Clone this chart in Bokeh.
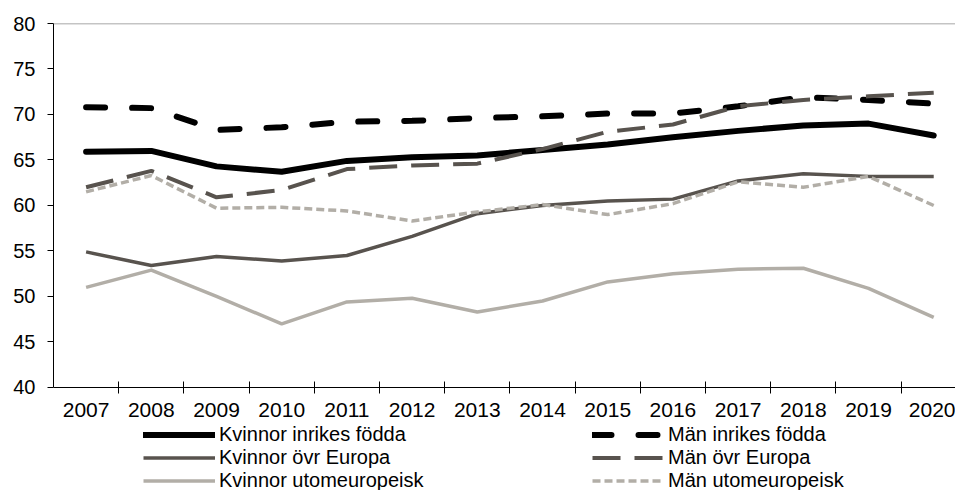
from bokeh.plotting import figure
from bokeh.models import Range1d, FixedTicker, Span, Legend, LegendItem
from bokeh.embed import file_html
from bokeh.resources import INLINE

years = list(range(2007, 2021))
kv_inrikes = [65.9, 66.0, 64.3, 63.7, 64.9, 65.3, 65.5, 66.1, 66.7, 67.5, 68.2, 68.8, 69.0, 67.7]
man_inrikes = [70.8, 70.7, 68.3, 68.6, 69.2, 69.3, 69.6, 69.8, 70.1, 70.1, 70.9, 71.9, 71.6, 71.2]
kv_europa = [54.9, 53.4, 54.4, 53.9, 54.5, 56.6, 59.1, 60.0, 60.5, 60.7, 62.7, 63.5, 63.2, 63.2]
man_europa = [62.0, 63.8, 60.9, 61.7, 64.0, 64.4, 64.6, 66.2, 68.1, 68.9, 70.9, 71.6, 72.0, 72.4]
kv_utom = [51.0, 52.9, 50.0, 47.0, 49.4, 49.8, 48.3, 49.5, 51.6, 52.5, 53.0, 53.1, 50.9, 47.7]
man_utom = [61.5, 63.3, 59.7, 59.8, 59.4, 58.3, 59.3, 60.1, 59.0, 60.2, 62.6, 62.0, 63.2, 60.0]
y_ticks = [40, 45, 50, 55, 60, 65, 70, 75, 80]
labels = ["Kvinnor inrikes födda", "Män inrikes födda", "Kvinnor övr Europa",
          "Män övr Europa", "Kvinnor utomeuropeisk", "Män utomeuropeisk"]

FONT = "Liberation Sans"
BLACK = "#000000"
DARK = "#58534e"
LIGHT = "#b2aea7"

# frame spans the whole lower area; the x axis is pinned at y = 40 and the legend sits under it
p = figure(width=955, height=490, output_backend="svg", toolbar_location=None,
           x_range=Range1d(years[0] - 0.5, years[-1] + 0.334),
           y_range=Range1d(y_ticks[-1] - 51.32, y_ticks[-1]),
           min_border_left=53, min_border_right=0, min_border_top=23, min_border_bottom=0)
p.outline_line_color = None
p.xgrid.visible = False
p.ygrid.visible = False
p.background_fill_color = "white"
p.border_fill_color = "white"

xa = p.xaxis[0]
xa.fixed_location = y_ticks[0]
xa.ticker = FixedTicker(ticks=years, minor_ticks=[y + 0.5 for y in years[:-1]])
xa.major_tick_in = 0
xa.major_tick_out = 0
xa.minor_tick_in = 6
xa.minor_tick_out = 6
xa.minor_tick_line_color = BLACK
xa.axis_line_color = BLACK
xa.major_label_text_font = FONT
xa.major_label_text_font_size = "21px"
xa.major_label_text_color = BLACK
xa.major_label_standoff = 10

ya = p.yaxis[0]
ya.ticker = FixedTicker(ticks=y_ticks)
ya.bounds = (y_ticks[0], y_ticks[-1])
ya.major_tick_in = 0
ya.major_tick_out = 6
ya.minor_tick_line_color = None
ya.axis_line_color = BLACK
ya.major_tick_line_color = BLACK
ya.major_label_text_font = FONT
ya.major_label_text_font_size = "20px"
ya.major_label_text_color = BLACK
ya.major_label_standoff = 12

p.add_layout(Span(location=y_ticks[-1], dimension="width", line_color="#8a8a8a", line_width=1.5))

r1 = p.line(years, kv_inrikes, line_color=BLACK, line_width=6, line_join="round", line_cap="round")
r2 = p.line(years, man_inrikes, line_color=BLACK, line_width=6, line_dash="19 27",
            line_cap="round", line_join="round")
r3 = p.line(years, kv_europa, line_color=DARK, line_width=3.5, line_join="round")
r4 = p.line(years, man_europa, line_color=DARK, line_width=4, line_dash="28 14", line_join="round")
r5 = p.line(years, kv_utom, line_color=LIGHT, line_width=3.5, line_join="round")
r6 = p.line(years, man_utom, line_color=LIGHT, line_width=3.5, line_dash="8 4", line_join="round")

rs = [r1, r2, r3, r4, r5, r6]
order = [0, 2, 4, 1, 3, 5]
items = [LegendItem(label=labels[i], renderers=[rs[i]]) for i in order]
legend = Legend(items=items, location=(90, -2), ncols=2,
                glyph_width=72, glyph_height=21, label_height=21, label_standoff=4,
                label_width=373, spacing=0, padding=0, margin=0,
                label_text_font=FONT, label_text_font_size="20px", label_text_color=BLACK,
                border_line_color=None, background_fill_alpha=0)
p.add_layout(legend)

open("out.html", "w").write(file_html(p, INLINE))
